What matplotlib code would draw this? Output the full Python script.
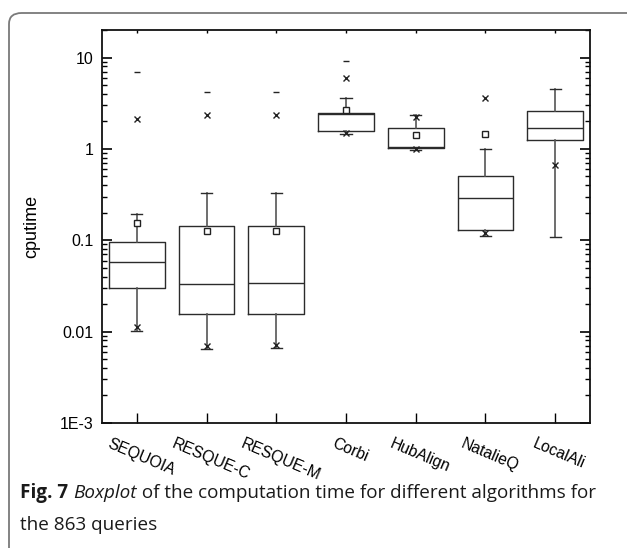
import matplotlib
matplotlib.use('Agg')
import matplotlib.pyplot as plt
import matplotlib.transforms as mtransforms
from matplotlib.patches import FancyBboxPatch
from matplotlib.ticker import FixedLocator, LogLocator, NullFormatter

# values (cputime, log scale)
names = ['SEQUOIA', 'RESQUE-C', 'RESQUE-M', 'Corbi', 'HubAlign', 'NatalieQ', 'LocalAli']
q1 = [0.030, 0.0154, 0.0154, 1.56, 1.02, 0.129, 1.26]
med = [0.0584, 0.0332, 0.0338, 2.43, 1.06, 0.29, 1.71]
q3 = [0.095, 0.143, 0.143, 2.46, 1.70, 0.50, 2.57]
whis_lo = [0.0101, 0.0065, 0.0067, 1.46, 0.98, 0.11, 0.109]
whis_hi = [0.195, 0.326, 0.33, 3.63, 2.32, 1.0, 4.48]
means = [0.155, 0.126, 0.127, 2.65, 1.42, 1.45, None]
p1 = [0.0112, 0.0069, 0.0072, 1.48, 1.0, 0.119, None]
p99 = [2.11, 2.34, 2.36, 5.96, 2.24, 3.59, 0.667]
vmax = [6.9, 4.15, 4.15, 9.25, None, None, None]

ytick_vals = [1e-3, 0.01, 0.1, 1, 10]
ytick_labels = ['1E-3', '0.01', '0.1', '1', '10']

plt.rcParams['font.family'] = ['Liberation Sans', 'DejaVu Sans']

fig = plt.figure(figsize=(6.27, 5.48), dpi=100)
ax = fig.add_axes([102 / 627, 1 - 423 / 548, 488 / 627, 393 / 548])

pos = list(range(1, len(names) + 1))
stats = []
for i in range(len(names)):
    stats.append({'med': med[i], 'q1': q1[i], 'q3': q3[i],
                  'whislo': whis_lo[i], 'whishi': whis_hi[i], 'fliers': []})

box_col = '#2b2b2b'
ax.bxp(stats, positions=pos, widths=0.8, showfliers=False,
       boxprops=dict(color=box_col, lw=1.0),
       medianprops=dict(color=box_col, lw=1.0),
       whiskerprops=dict(color='#555555', lw=1.2),
       capprops=dict(color=box_col, lw=1.0),
       capwidths=0.16)

for i, p in enumerate(pos):
    if means[i] is not None:
        ax.plot(p, means[i], marker='s', ms=4.5, mfc='white', mec='#222222', mew=1.0, zorder=5)
    if p1[i] is not None:
        ax.plot(p, p1[i], marker='x', ms=5, color='#222222', mew=1.0, zorder=5)
    if p99[i] is not None:
        ax.plot(p, p99[i], marker='x', ms=5, color='#222222', mew=1.0, zorder=5)
    if vmax[i] is not None:
        ax.plot(p, vmax[i], marker='_', ms=5, color='#222222', mew=1.0, zorder=5)

ax.set_yscale('log')
ax.set_ylim(1e-3, 20)
ax.set_xlim(0.5, 7.5)

ax.yaxis.set_major_locator(FixedLocator(ytick_vals))
ax.set_yticklabels(ytick_labels)
ax.yaxis.set_minor_locator(LogLocator(base=10, subs=range(2, 10), numticks=20))
ax.yaxis.set_minor_formatter(NullFormatter())
ax.set_xticks(pos)
ax.set_xticklabels([])

# category labels, slanted, nudged a little right of the ticks
shift = mtransforms.ScaledTranslation(4 / 100, -13 / 100, fig.dpi_scale_trans)
for p, name in zip(pos, names):
    ax.text(p, 0, name, transform=ax.get_xaxis_transform() + shift,
            rotation=-23, ha='center', va='top', fontsize=11.3, clip_on=False)

ax.tick_params(axis='y', which='major', direction='in', length=7, width=1.2,
               labelsize=11.5, right=True, pad=6)
ax.tick_params(axis='y', which='minor', direction='in', length=3.5, width=1.0, right=True)
ax.tick_params(axis='x', which='major', direction='in', length=7, width=1.0, top=True)
for t in ax.xaxis.get_major_ticks():
    t.tick2line.set_markersize(2.5)

for s in ax.spines.values():
    s.set_linewidth(1.3)
    s.set_color('#111111')

ax.set_ylabel('cputime', fontsize=13, labelpad=14)

# figure frame with rounded corner
frame = FancyBboxPatch((9 / 627, -0.2), 1.2, 1 - 13 / 548 + 0.2,
                       boxstyle='round,pad=0,rounding_size=0.02',
                       transform=fig.transFigure, fill=False,
                       ec='#7a7a7a', lw=1.3, clip_on=False)
fig.patches.append(frame)

# caption with mixed styles
cap_font = ['Open Sans', 'DejaVu Sans']
cap_size = 13.6
renderer = fig.canvas.get_renderer()
x0 = 20 / 627
y1 = 1 - 498 / 548
y2 = 1 - 530 / 548
pieces = [('Fig. 7 ', 'bold', 'normal'), ('Boxplot', 'normal', 'italic'),
          (' of the computation time for different algorithms for', 'normal', 'normal')]
x = x0
for txt, wt, st in pieces:
    t = fig.text(x, y1, txt, fontsize=cap_size, family=cap_font, weight=wt, style=st,
                 ha='left', va='baseline', color='#1a1a1a')
    bb = t.get_window_extent(renderer=renderer)
    x += bb.width / fig.bbox.width
fig.text(x0, y2, 'the 863 queries', fontsize=cap_size, family=cap_font,
         ha='left', va='baseline', color='#1a1a1a')

fig.savefig('out.png', dpi=100)
